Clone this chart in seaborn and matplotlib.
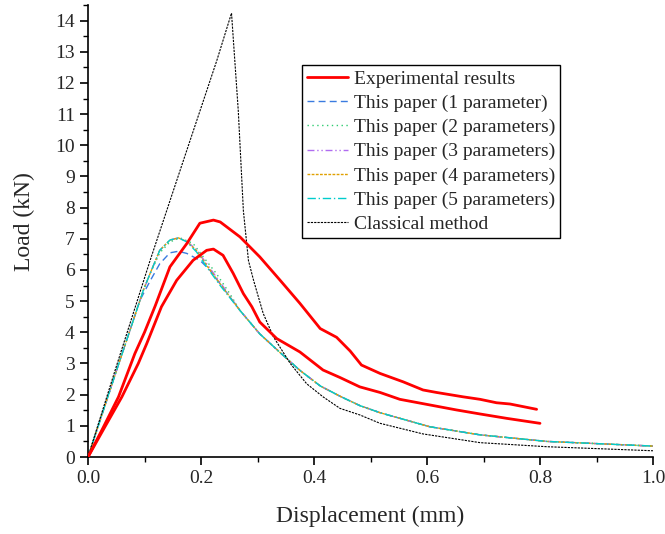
import numpy as np
import matplotlib
matplotlib.use('Agg')
import matplotlib.pyplot as plt
import seaborn as sns

# experimental curves (two specimens)
exp_a_x = [0, 0.027, 0.054, 0.083, 0.100, 0.119, 0.145, 0.175, 0.198, 0.222, 0.234, 0.269, 0.304,
           0.340, 0.375, 0.411, 0.440, 0.464, 0.484, 0.517, 0.558, 0.593, 0.617, 0.664, 0.694,
           0.723, 0.747, 0.794]
exp_a_y = [0, 0.95, 1.93, 3.32, 4.00, 4.85, 6.10, 6.85, 7.50, 7.60, 7.54, 7.06, 6.42,
           5.67, 4.93, 4.12, 3.84, 3.40, 2.95, 2.68, 2.41, 2.15, 2.07, 1.93, 1.85,
           1.74, 1.70, 1.53]
exp_b_x = [0, 0.030, 0.060, 0.089, 0.104, 0.130, 0.157, 0.186, 0.210, 0.222, 0.239, 0.257, 0.275,
           0.290, 0.304, 0.334, 0.375, 0.416, 0.446, 0.481, 0.517, 0.552, 0.605, 0.652, 0.694,
           0.741, 0.800]
exp_b_y = [0, 0.97, 1.93, 3.00, 3.64, 4.82, 5.67, 6.31, 6.63, 6.67, 6.47, 5.89, 5.24,
           4.82, 4.33, 3.80, 3.37, 2.79, 2.55, 2.25, 2.07, 1.85, 1.67, 1.51, 1.38,
           1.24, 1.08]

# model tail shared by all "this paper" curves
tail_x = [0.269, 0.304, 0.340, 0.375, 0.411, 0.446, 0.481, 0.517, 0.605, 0.694, 0.812, 1.0]
tail_y = [4.70, 3.95, 3.35, 2.78, 2.28, 1.95, 1.65, 1.42, 0.97, 0.71, 0.50, 0.35]

p1_x = [0, 0.050, 0.092, 0.110, 0.127, 0.145, 0.160, 0.175, 0.198, 0.216, 0.234] + tail_x
p1_y = [0, 2.75, 5.03, 5.65, 6.20, 6.55, 6.60, 6.53, 6.31, 5.99, 5.55] + tail_y
p2_x = [0, 0.050, 0.098, 0.110, 0.127, 0.145, 0.163, 0.186, 0.204, 0.227, 0.251] + tail_x
p2_y = [0, 2.75, 5.35, 5.89, 6.55, 6.90, 7.03, 6.85, 6.42, 5.89, 5.24] + tail_y
p3_x = [0, 0.050, 0.098, 0.110, 0.127, 0.145, 0.160, 0.175, 0.192, 0.210, 0.234] + tail_x
p3_y = [0, 2.75, 5.35, 5.89, 6.63, 6.96, 7.03, 6.92, 6.65, 6.20, 5.60] + tail_y
p4_x = [0, 0.050, 0.098, 0.110, 0.127, 0.145, 0.160, 0.175, 0.192, 0.210, 0.234] + tail_x
p4_y = [0, 2.75, 5.35, 5.89, 6.63, 6.96, 7.03, 6.91, 6.62, 6.15, 5.55] + tail_y
p5_x = [0, 0.050, 0.098, 0.110, 0.127, 0.145, 0.160, 0.175, 0.192, 0.210, 0.234] + tail_x
p5_y = [0, 2.75, 5.35, 5.89, 6.63, 6.96, 7.03, 6.90, 6.58, 6.10, 5.50] + tail_y

# classical method
cl_x = [0, 0.050, 0.110, 0.169, 0.228, 0.254, 0.266, 0.275, 0.284, 0.293, 0.310, 0.328, 0.358,
        0.387, 0.416, 0.446, 0.481, 0.517, 0.593, 0.694, 0.812, 1.0]
cl_y = [0, 2.90, 6.31, 9.52, 12.72, 14.24, 11.10, 7.90, 6.30, 5.67, 4.61, 3.86, 3.00,
        2.35, 1.93, 1.56, 1.35, 1.08, 0.74, 0.46, 0.33, 0.20]

sns.set_style('ticks')
plt.rcParams['font.family'] = ['Liberation Serif', 'DejaVu Serif']
plt.rcParams['xtick.direction'] = 'out'
plt.rcParams['ytick.direction'] = 'out'

fig = plt.figure(figsize=(6.65, 5.34), dpi=100)
ax = fig.add_axes([88 / 665, 1 - 457 / 534, 565 / 665, 452 / 534])

sns.lineplot(x=exp_a_x, y=exp_a_y, ax=ax, color='#ff0000', lw=2.0, sort=False,
             label='Experimental results', zorder=4)
sns.lineplot(x=exp_b_x, y=exp_b_y, ax=ax, color='#ff0000', lw=2.0, sort=False,
             label='_nolegend_', zorder=4)
sns.lineplot(x=p1_x, y=p1_y, ax=ax, color='#3a7be0', lw=1.0, ls=(0, (5, 3)), sort=False,
             label='This paper (1 parameter)')
sns.lineplot(x=p2_x, y=p2_y, ax=ax, color='#2ecc71', lw=1.0, ls=(0, (1, 2.5)), sort=False,
             label='This paper (2 parameters)')
sns.lineplot(x=p3_x, y=p3_y, ax=ax, color='#b06cf0', lw=1.0, ls=(0, (5, 2, 1, 2, 1, 2)), sort=False,
             label='This paper (3 parameters)')
sns.lineplot(x=p4_x, y=p4_y, ax=ax, color='#e0a000', lw=1.0, ls=(0, (2, 1)), sort=False,
             label='This paper (4 parameters)')
sns.lineplot(x=p5_x, y=p5_y, ax=ax, color='#00cccc', lw=1.0, ls=(0, (6, 2, 1, 2)), sort=False,
             label='This paper (5 parameters)')
sns.lineplot(x=cl_x, y=cl_y, ax=ax, color='black', lw=0.8, ls=(0, (2, 1)), sort=False,
             label='Classical method')

ax.set_xlim(0, 1.0)
ax.set_ylim(0, 14.5)
ax.set_xticks(np.arange(0, 1.01, 0.2))
ax.set_xticks(np.arange(0, 1.01, 0.1), minor=True)
ax.set_yticks(np.arange(0, 15, 1))
ax.set_yticks(np.arange(0, 14.51, 0.5), minor=True)
ax.xaxis.set_major_formatter(matplotlib.ticker.FormatStrFormatter('%.1f'))
ax.tick_params(which='major', length=6, width=1.2, labelsize=14, color='black')
ax.tick_params(which='minor', length=3.5, width=1.0, color='black')
for s in ['top', 'right']:
    ax.spines[s].set_visible(False)
for s in ['left', 'bottom']:
    ax.spines[s].set_linewidth(1.2)
    ax.spines[s].set_color('black')

ax.set_xlabel('Displacement (mm)', fontsize=17)
ax.set_ylabel('Load (kN)', fontsize=17)
ax.xaxis.set_label_coords(0.5, -0.108)
ax.yaxis.set_label_coords(-0.093, 0.52)

leg = ax.legend(loc='upper left', bbox_to_anchor=(0.379, 0.867), borderaxespad=0,
                fontsize=14, frameon=True, fancybox=False, framealpha=1,
                edgecolor='black', handlelength=2.1, labelspacing=0.34,
                borderpad=0.25, handletextpad=0.3)
leg.get_frame().set_linewidth(1.0)

fig.savefig('out.png', dpi=100)
